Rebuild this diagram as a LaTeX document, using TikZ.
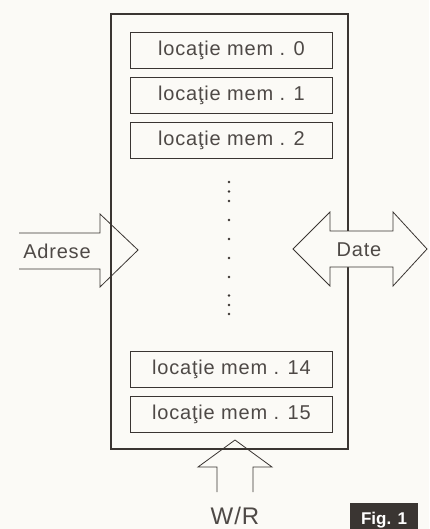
\documentclass[tikz,border=0pt]{standalone}
\usepackage{fontspec}
\setmainfont[LetterSpace=4]{Liberation Sans}
\newfontfamily\figfont{Liberation Sans}
\definecolor{ink}{HTML}{3A3532}
\definecolor{paper}{HTML}{FBFAF6}
\begin{document}
\begin{tikzpicture}[x=1pt,y=-1pt,
  membox/.style={draw=ink,line width=0.9pt,minimum width=202pt,minimum height=36pt,inner sep=0pt,anchor=north west,font=\fontsize{20}{22}\selectfont,text=ink!90},
  arrowshape/.style={draw=ink,line width=0.8pt,line join=miter},
  lbl/.style={inner sep=0pt,text=ink!90,font=\fontsize{20}{22}\selectfont}]
\fill[paper] (0,0) rectangle (429,529);
\useasboundingbox (0,0) rectangle (429,529);
% main block
\node[draw=ink,line width=2pt,minimum width=237pt,minimum height=435pt,inner sep=0pt,anchor=north west] (mem) at (110,13) {};
% memory locations
\node[membox] (m0) at (130,32) {locaţie mem . 0};
\node[membox] (m1) at (130,77) {locaţie mem . 1};
\node[membox] (m2) at (130,122) {locaţie mem . 2};
\node[membox] (m14) at (130,351) {locaţie mem . 14};
\node[membox] (m15) at (130,396) {locaţie mem . 15};
% dots
\foreach \yy in {182,191.5,201,220,239,258,277,295.5,305,314}
  \fill[ink] (229,\yy) circle (1.3pt);
% Adrese arrow (open tail)
\draw[arrowshape] (19,233) -- (100,233) -- (100,214) -- (138,250) -- (100,287) -- (100,269) -- (19,269);
\node[lbl] (adr) at (57,251) {Adrese};
% Date double arrow (filled, hides block edge)
\draw[arrowshape,fill=paper] (293,249) -- (330,212) -- (330,231) -- (393,231) -- (393,212) -- (427,249) -- (393,286) -- (393,267) -- (330,267) -- (330,286) -- cycle;
\node[lbl] (dat) at (359,250) {Date};
% W/R arrow
\draw[arrowshape] (217,492) -- (217,467) -- (198,467) -- (235,440) -- (272,467) -- (253,467) -- (253,492);
\node[lbl,font=\fontsize{24}{26}\selectfont] (wr) at (235,516) {W/R};
% Fig. 1 label
\node[fill=ink,minimum width=68pt,minimum height=30pt,inner sep=0pt,anchor=north west] (figbox) at (350,503) {};
\node[text=white,font=\figfont\bfseries\fontsize{17}{19}\selectfont,inner sep=0pt] (figtxt) at (384,520) {Fig. 1};
\end{tikzpicture}
\end{document}
